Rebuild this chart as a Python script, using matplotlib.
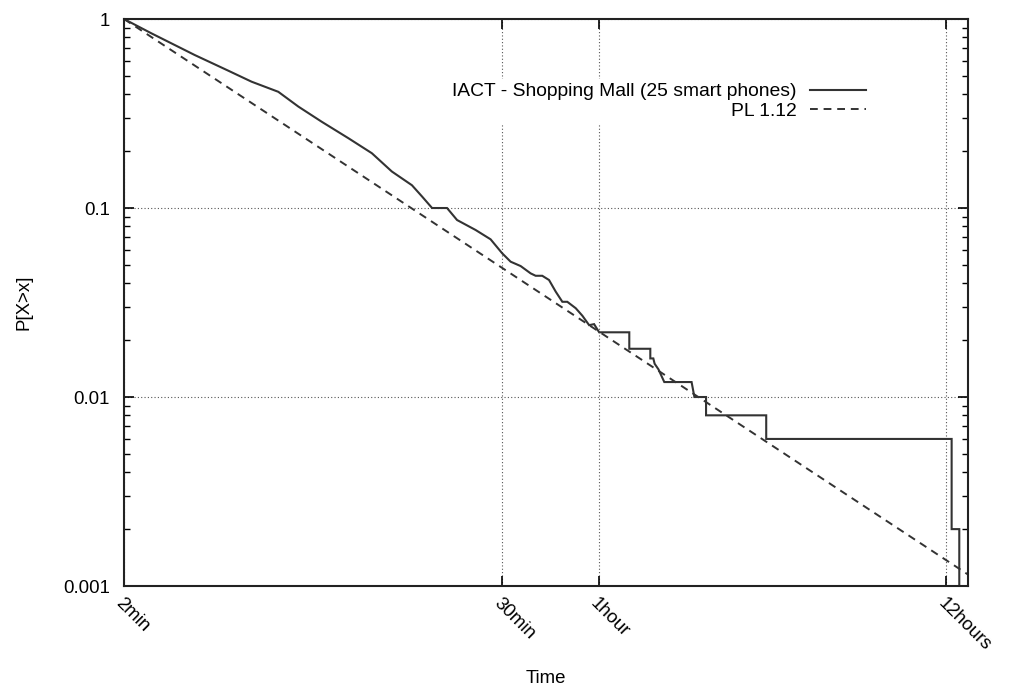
import matplotlib
matplotlib.use("Agg")
import matplotlib.pyplot as plt
from matplotlib.ticker import FixedLocator, LogLocator, NullLocator

plt.rcParams['font.family'] = ['Liberation Sans', 'DejaVu Sans']

# --- data (seconds, CCDF) ---
iact_t = [120, 146, 199, 253, 299, 362, 418, 494, 598, 707, 816, 942, 1013,
          1088, 1211, 1301, 1486, 1654, 1797, 1909, 2051, 2203, 2283, 2394,
          2513, 2636, 2764, 2864, 3042, 3191, 3348, 3469, 3597,
          4463, 4463, 5187, 5187, 5300, 5350, 5500, 5733,
          6970, 7112, 7730, 7730, 11890, 11890, 44820, 44820, 47340, 47340]
iact_p = [1.0, 0.84, 0.645, 0.533, 0.466, 0.412, 0.344, 0.286, 0.234, 0.195,
          0.156, 0.132, 0.115, 0.1, 0.1, 0.0864, 0.0765, 0.0683, 0.0576,
          0.052, 0.0493, 0.0451, 0.0438, 0.0438, 0.0416, 0.0361, 0.0319,
          0.0319, 0.0295, 0.0269, 0.024, 0.0243, 0.022,
          0.022, 0.018, 0.018, 0.016, 0.016, 0.015, 0.014, 0.012,
          0.012, 0.010, 0.010, 0.008, 0.008, 0.006, 0.006, 0.002, 0.002, 0.0005]

pl_t = [120, 50400]
pl_p = [1.0, 0.00115]

x_ticks = [120, 1800, 3600, 43200]
x_labels = ['2min', '30min', '1hour', '12hours']
y_ticks = [1, 0.1, 0.01, 0.001]
y_labels = ['1', '0.1', '0.01', '0.001']

FS = 13.4

fig = plt.figure(figsize=(10.09, 6.94), dpi=100)
ax = fig.add_axes([0.1229, 0.1556, 0.8365, 0.817])

ax.plot(iact_t, iact_p, color='#333333', lw=1.5, solid_joinstyle='miter',
        label='IACT - Shopping Mall (25 smart phones)')
ax.plot(pl_t, pl_p, color='#333333', lw=1.4, dashes=(4, 3), label='PL 1.12')

ax.set_xscale('log')
ax.set_yscale('log')
ax.set_xlim(120, 50400)
ax.set_ylim(0.001, 1)

ax.xaxis.set_major_locator(FixedLocator(x_ticks))
ax.xaxis.set_minor_locator(NullLocator())
ax.set_xticklabels(x_labels, rotation=-45, ha='left', va='top',
                   rotation_mode='anchor', fontsize=FS)
ax.yaxis.set_major_locator(FixedLocator(y_ticks))
ax.yaxis.set_minor_locator(LogLocator(base=10, subs=range(2, 10)))
ax.set_yticklabels(y_labels, fontsize=FS)

ax.tick_params(which='both', direction='in', top=True, right=True)
ax.tick_params(which='major', length=7, width=1.2)
ax.tick_params(which='minor', length=4, width=1.0)
ax.tick_params(axis='x', which='major', pad=6)
ax.tick_params(axis='y', which='major', pad=10)

ax.grid(True, which='major', color='#555555', linestyle=(0, (1, 2)), lw=0.8)
for s in ax.spines.values():
    s.set_linewidth(1.5)
    s.set_color('#222222')

ax.set_xlabel('Time', fontsize=FS)
ax.xaxis.set_label_coords(0.5, -0.148)
ax.set_ylabel('P[X>x]', fontsize=FS)
ax.yaxis.set_label_coords(-0.109, 0.5)

# legend: text right-aligned, sample line on the right, white box hides the grid
leg = ax.legend(loc='upper right', bbox_to_anchor=(0.884, 0.894), markerfirst=False,
                fontsize=13.9, handlelength=2.9, handletextpad=0.7,
                labelspacing=0.1, borderpad=0.2, borderaxespad=0,
                frameon=True, fancybox=False)
leg.get_frame().set_edgecolor('none')
leg.get_frame().set_facecolor('white')
leg.get_frame().set_alpha(1)
for t in leg.get_texts():
    t.set_ha('right')
leg._legend_box.align = 'right'

fig.savefig('out.png', dpi=100)
